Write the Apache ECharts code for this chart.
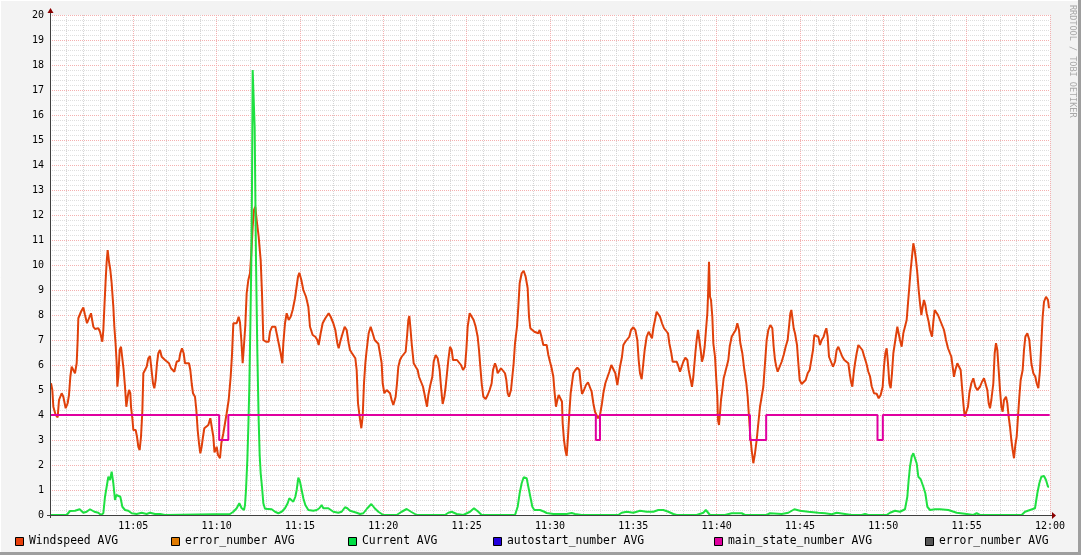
<!DOCTYPE html>
<html><head><meta charset="utf-8">
<script src="https://cdn.jsdelivr.net/npm/echarts@6/dist/echarts.min.js"></script>
<style>html,body{margin:0;padding:0;background:#f3f3f3;}#c{width:1081px;height:555px;}</style>
</head><body><div id="c"></div>
<script>
// minutes after 11:00
const windT = [0.06,0.14,0.2,0.34,0.46,0.54,0.7,0.8,0.94,1.06,1.14,1.22,1.3,1.4,1.5,1.6,1.66,1.7,1.86,2.0,2.1,2.22,2.34,2.46,2.6,2.7,2.9,3.0,3.14,3.2,3.26,3.34,3.4,3.46,3.54,3.62,3.7,3.8,3.86,3.94,4.0,4.04,4.1,4.18,4.26,4.34,4.42,4.5,4.58,4.66,4.74,4.82,4.86,4.94,5.0,5.14,5.22,5.3,5.38,5.46,5.54,5.6,5.7,5.8,5.9,6.0,6.1,6.18,6.26,6.34,6.42,6.5,6.6,6.7,6.8,6.9,7.02,7.14,7.26,7.38,7.46,7.6,7.74,7.82,7.92,8.02,8.1,8.22,8.34,8.42,8.5,8.58,8.7,8.78,8.86,8.94,9.02,9.1,9.18,9.26,9.38,9.5,9.62,9.7,9.8,9.87,10.0,10.08,10.2,10.28,10.4,10.5,10.6,10.72,10.84,10.92,11.0,11.1,11.2,11.32,11.4,11.48,11.56,11.64,11.72,11.8,11.9,12.0,12.08,12.16,12.24,12.32,12.4,12.52,12.64,12.72,12.8,12.86,12.96,13.12,13.2,13.32,13.52,13.64,13.72,13.84,13.94,14.0,14.1,14.2,14.32,14.44,14.56,14.7,14.8,14.88,14.96,15.08,15.2,15.36,15.5,15.6,15.76,15.92,16.04,16.12,16.24,16.36,16.52,16.72,16.84,17.0,17.12,17.24,17.32,17.44,17.56,17.68,17.8,17.92,18.0,18.12,18.24,18.32,18.4,18.48,18.58,18.68,18.76,18.84,18.92,19.0,19.12,19.24,19.36,19.48,19.6,19.7,19.8,19.9,19.96,20.06,20.2,20.3,20.4,20.5,20.6,20.74,20.82,20.9,21.0,21.1,21.22,21.34,21.42,21.5,21.56,21.62,21.7,21.82,21.94,22.06,22.14,22.26,22.38,22.46,22.54,22.62,22.7,22.82,22.94,23.02,23.14,23.26,23.38,23.46,23.56,23.66,23.74,23.82,23.9,24.0,24.1,24.18,24.3,24.42,24.54,24.66,24.78,24.9,24.98,25.06,25.18,25.3,25.42,25.54,25.66,25.74,25.82,25.9,26.0,26.14,26.26,26.38,26.5,26.58,26.7,26.78,26.86,26.94,27.06,27.18,27.3,27.38,27.46,27.54,27.66,27.74,27.82,27.9,28.02,28.1,28.18,28.3,28.42,28.54,28.66,28.74,28.82,28.94,29.06,29.18,29.3,29.38,29.5,29.6,29.8,29.9,30.0,30.1,30.2,30.28,30.36,30.44,30.52,30.64,30.72,30.76,30.84,30.92,31.0,31.08,31.16,31.24,31.32,31.4,31.52,31.64,31.76,31.84,31.92,32.04,32.16,32.28,32.4,32.5,32.6,32.7,32.8,32.88,33.0,33.12,33.2,33.32,33.44,33.56,33.68,33.8,33.92,34.04,34.12,34.2,34.32,34.4,34.52,34.64,34.76,34.86,35.0,35.12,35.24,35.32,35.4,35.5,35.6,35.68,35.8,35.92,36.04,36.12,36.2,36.3,36.4,36.5,36.6,36.72,36.84,36.96,37.08,37.16,37.28,37.36,37.48,37.6,37.68,37.8,37.92,38.0,38.12,38.24,38.32,38.4,38.52,38.6,38.72,38.8,38.88,38.96,39.04,39.12,39.2,39.28,39.36,39.44,39.48,39.54,39.6,39.66,39.74,39.8,39.9,39.98,40.04,40.08,40.14,40.2,40.26,40.34,40.42,40.5,40.62,40.7,40.78,40.9,41.02,41.14,41.24,41.34,41.42,41.54,41.66,41.78,41.86,41.94,42.02,42.1,42.2,42.3,42.4,42.5,42.6,42.7,42.8,42.9,43.0,43.1,43.22,43.34,43.42,43.5,43.58,43.66,43.78,43.9,44.02,44.14,44.26,44.34,44.42,44.48,44.56,44.62,44.7,44.82,44.9,44.98,45.1,45.22,45.34,45.46,45.58,45.7,45.78,45.86,45.98,46.1,46.2,46.3,46.42,46.5,46.58,46.66,46.74,46.86,46.98,47.1,47.2,47.3,47.42,47.54,47.66,47.78,47.9,47.98,48.06,48.14,48.22,48.3,48.4,48.5,48.62,48.74,48.86,48.98,49.1,49.2,49.3,49.44,49.6,49.72,49.84,49.96,50.04,50.12,50.2,50.28,50.36,50.44,50.52,50.6,50.72,50.84,50.92,51.0,51.1,51.2,51.32,51.4,51.48,51.56,51.64,51.72,51.8,51.88,51.96,52.04,52.12,52.2,52.28,52.36,52.44,52.52,52.6,52.72,52.8,52.92,53.0,53.08,53.16,53.28,53.4,53.52,53.64,53.76,53.88,54.0,54.08,54.16,54.24,54.32,54.44,54.56,54.64,54.72,54.8,54.88,55.0,55.08,55.16,55.28,55.4,55.52,55.64,55.8,55.92,56.04,56.16,56.24,56.32,56.4,56.48,56.6,56.68,56.76,56.84,56.92,57.0,57.08,57.16,57.24,57.36,57.44,57.52,57.6,57.68,57.76,57.84,57.92,58.0,58.08,58.16,58.24,58.36,58.44,58.52,58.64,58.76,58.88,59.0,59.12,59.2,59.3,59.4,59.48,59.56,59.64,59.76,59.88,59.94];
const windV = [5.27,5.0,4.33,4.0,3.9,4.6,4.87,4.73,4.27,4.47,4.8,5.53,5.93,5.93,5.67,6.07,7.0,7.87,8.13,8.3,8.0,7.67,7.87,8.07,7.53,7.44,7.47,7.33,6.93,7.4,8.27,9.4,10.13,10.6,10.13,9.8,9.27,8.33,7.53,6.8,6.07,5.13,5.53,6.6,6.73,6.8,5.8,5.13,4.33,4.73,5.0,4.87,4.33,3.87,3.4,3.4,3.13,2.73,2.6,3.13,4.13,5.67,5.8,5.93,6.27,6.36,6.33,5.27,5.07,5.4,6.07,6.47,6.6,6.33,6.27,6.2,6.27,6.07,5.87,5.93,5.73,6.13,6.17,6.47,6.67,6.47,6.07,6.0,6.07,5.8,5.27,4.87,4.73,4.2,3.4,2.87,2.47,2.73,3.13,3.47,3.53,3.6,3.87,3.8,3.13,2.5,2.73,2.4,2.27,2.87,3.27,3.67,4.07,4.6,5.53,6.4,7.67,7.73,7.67,7.93,7.7,7.0,6.07,6.8,7.6,8.87,9.4,9.67,10.47,11.53,12.2,12.33,11.8,11.13,10.2,8.87,7.0,6.93,6.93,6.93,7.33,7.53,7.53,7.47,6.87,6.47,6.07,6.87,7.67,8.07,7.8,7.93,8.2,8.67,8.73,9.53,9.69,9.4,9.0,8.73,8.33,7.53,7.2,7.13,7.0,6.8,7.27,7.67,7.87,8.07,7.93,7.67,7.4,6.87,6.67,7.0,7.27,7.53,7.4,6.87,6.6,6.47,6.53,6.27,5.8,4.47,3.93,3.47,3.93,5.27,6.07,6.6,7.27,7.53,7.27,7.0,7.0,6.85,6.47,6.07,5.27,4.87,5.0,5.07,4.87,4.6,4.4,4.73,5.27,5.93,6.2,6.33,6.27,6.53,7.13,7.8,7.96,7.53,6.87,6.07,5.93,5.8,5.53,5.33,5.13,4.87,4.6,4.33,4.8,5.2,5.53,6.13,6.4,6.27,5.8,5.13,4.44,4.73,5.13,5.67,6.2,6.73,6.6,6.2,6.13,6.2,6.13,6.0,5.8,5.93,6.6,7.53,8.07,8.13,7.8,7.53,7.13,6.6,5.93,5.27,4.73,4.64,4.8,5.0,5.27,5.8,6.07,5.93,5.67,5.73,5.87,5.93,5.67,5.4,4.87,4.73,5.0,5.53,6.07,6.87,7.53,8.33,9.27,9.67,9.77,9.53,9.07,7.93,7.47,7.4,7.33,7.4,7.27,7.4,7.1,6.8,6.8,6.4,6.13,5.87,5.53,4.87,4.33,4.6,4.8,4.87,4.53,3.67,3.0,2.6,2.36,3.13,4.07,4.87,5.27,5.67,5.8,5.89,5.8,5.27,4.84,5.0,5.2,5.31,5.27,4.93,4.47,4.13,4.13,3.87,4.0,4.47,4.87,5.27,5.33,5.73,6.0,5.93,5.67,5.2,5.27,5.93,6.33,6.8,6.93,7.0,7.13,7.4,7.51,7.4,7.0,6.2,5.67,5.43,6.07,6.6,7.13,7.33,7.27,7.07,7.47,7.8,8.13,8.2,7.93,7.67,7.47,7.4,7.27,6.87,6.47,6.13,6.07,6.13,6.0,5.73,5.67,6.13,6.29,6.2,5.8,5.53,5.13,5.53,6.47,7.0,7.4,7.0,6.6,6.13,6.33,6.73,7.4,8.07,8.73,10.13,8.73,8.6,7.93,6.87,6.33,5.4,4.73,3.8,3.6,4.07,4.6,5.0,5.47,5.67,5.69,6.2,6.73,7.13,7.27,7.4,7.67,7.4,6.87,6.47,5.8,5.27,4.73,3.93,3.13,2.6,2.07,2.47,3.0,3.67,4.33,4.73,5.13,6.07,7.0,7.4,7.6,7.47,6.73,6.2,5.93,5.73,5.93,6.13,6.4,6.73,7.0,7.53,8.07,8.2,7.8,7.47,7.27,6.8,6.07,5.4,5.24,5.27,5.4,5.67,5.8,5.8,6.6,7.2,7.24,7.13,6.8,7.0,7.13,7.33,7.47,7.13,6.33,6.13,5.93,6.13,6.6,6.73,6.67,6.33,6.2,6.27,6.07,5.67,5.33,5.13,5.67,6.07,6.47,6.8,6.84,6.6,6.33,6.07,5.73,5.55,5.15,4.87,4.85,4.67,4.8,5.13,5.93,6.47,6.67,6.07,5.27,5.07,5.67,6.47,7.0,7.53,7.47,7.0,6.73,7.27,7.33,7.8,8.47,9.13,9.8,10.33,10.87,10.6,10.2,9.67,9.0,8.47,8.0,8.33,8.6,8.4,8.07,7.73,7.4,7.13,7.73,8.2,8.27,8.0,7.8,7.73,7.4,7.0,6.67,6.6,6.33,5.93,5.53,5.8,6.07,6.13,5.8,5.13,4.47,3.93,3.87,4.33,4.87,5.27,5.47,5.13,5.0,5.13,5.33,5.47,5.53,5.0,4.47,4.27,4.6,5.27,6.47,6.87,6.6,5.8,5.0,4.33,4.13,4.6,4.73,4.47,3.93,3.53,3.0,2.6,2.27,2.8,3.13,3.93,4.73,5.4,5.8,6.6,7.13,7.27,7.0,6.07,5.67,5.53,5.27,5.07,5.8,6.87,7.93,8.53,8.73,8.6,8.27];
const curT = [0.0,1.0,1.2,1.5,1.78,2.0,2.2,2.4,2.66,2.9,3.06,3.2,3.3,3.4,3.5,3.6,3.7,3.8,3.9,3.98,4.1,4.22,4.34,4.5,4.7,4.9,5.2,5.5,5.8,6.0,6.3,6.6,6.9,10.8,11.0,11.2,11.36,11.5,11.64,11.7,11.76,11.84,11.9,11.96,12.02,12.08,12.12,12.16,12.24,12.28,12.36,12.44,12.52,12.58,12.64,12.72,12.8,12.9,13.0,13.3,13.5,13.7,13.9,14.1,14.26,14.36,14.48,14.6,14.72,14.8,14.9,15.0,15.1,15.2,15.32,15.5,15.8,16.0,16.16,16.3,16.4,16.7,17.0,17.3,17.5,17.7,17.84,18.0,18.2,18.4,18.6,18.8,19.04,19.28,19.48,19.7,19.8,20.0,20.8,21.1,21.4,21.66,22.0,23.7,23.9,24.1,24.4,24.8,25.2,25.44,25.7,25.9,27.9,28.06,28.18,28.3,28.42,28.6,28.7,28.82,28.94,29.06,29.4,29.66,29.8,30.2,31.0,31.3,31.5,31.9,34.1,34.3,34.6,35.0,35.4,35.8,36.2,36.5,36.8,37.1,37.4,37.6,38.8,39.2,39.35,39.45,39.6,40.5,40.9,41.5,41.7,43.0,43.2,43.9,44.3,44.66,45.0,45.5,46.1,46.5,46.9,47.2,47.7,48.1,48.7,48.9,49.1,50.2,50.4,50.7,51.0,51.3,51.44,51.52,51.6,51.7,51.8,51.92,52.0,52.1,52.24,52.4,52.52,52.64,52.8,53.1,53.4,53.9,54.4,55.0,55.4,55.6,55.8,58.3,58.5,58.8,59.1,59.24,59.36,59.48,59.64,59.76,59.88,59.94];
const curV = [0,0,0.16,0.17,0.23,0.09,0.13,0.23,0.13,0.09,0,0.07,0.73,1.13,1.53,1.4,1.73,1.27,0.6,0.8,0.87,0.73,0.33,0.2,0.17,0.07,0.04,0.09,0.04,0.09,0.04,0.04,0,0.04,0.13,0.27,0.47,0.27,0.2,0.4,1.0,2.2,3.53,5.13,7.53,10.2,13.13,17.8,17.8,15.5,10.2,6.5,3.8,2.4,1.67,1.13,0.47,0.25,0.23,0.23,0.13,0.07,0.13,0.27,0.47,0.67,0.6,0.53,0.73,1.0,1.49,1.33,1.0,0.67,0.4,0.2,0.17,0.2,0.27,0.4,0.27,0.27,0.13,0.09,0.13,0.31,0.27,0.17,0.13,0.09,0.04,0.07,0.27,0.44,0.27,0.13,0.07,0,0,0.13,0.24,0.13,0,0,0.09,0.13,0.04,0,0.13,0.27,0.13,0,0,0.33,0.87,1.27,1.51,1.47,1.13,0.73,0.33,0.2,0.2,0.13,0.08,0.04,0.04,0.08,0.04,0,0,0.09,0.13,0.09,0.17,0.13,0.13,0.2,0.2,0.13,0.04,0,0,0.09,0.2,0.13,0,0,0.07,0.07,0,0,0.07,0.04,0.09,0.23,0.17,0.13,0.09,0.07,0.03,0.09,0.04,0,0,0.04,0,0,0.09,0.17,0.13,0.23,0.73,1.4,1.93,2.33,2.47,2.44,2.07,1.53,1.43,1.13,0.87,0.33,0.2,0.23,0.23,0.2,0.09,0.04,0,0.07,0,0,0.13,0.2,0.27,0.87,1.27,1.53,1.56,1.4,1.13,1.13];
const stateT = [0,10.15,10.7,32.75,33.0,42.0,42.97,49.65,49.97,59.98];
const stateV = [4,3,4,3,4,3,4,3,4,4];
const xTickLabels = ['','11:05','11:10','11:15','11:20','11:25','11:30','11:35','11:40','11:45','11:50','11:55','12:00'];
const yTickLabels = ['0','1','2','3','4','5','6','7','8','9','10','11','12','13','14','15','16','17','18','19','20'];
const legendNames = ['Windspeed AVG','error_number AVG','Current AVG','autostart_number AVG','main_state_number AVG','error_number AVG'];
const legendColors = ['#e8400c','#e07a00','#00dd44','#2200dd','#e000a0','#555555'];

const zip = (a,b)=>a.map((t,i)=>[t,b[i]]);
const mono = 'DejaVu Sans Mono';
const legendBoxX = [15,171,348,493,714,925];
const graphics = [];
legendNames.forEach((n,i)=>{
  graphics.push({type:'rect',shape:{x:legendBoxX[i]+0.5,y:537.5,width:8,height:8},style:{fill:legendColors[i],stroke:'#000',lineWidth:1},z:10});
  graphics.push({type:'text',x:legendBoxX[i]+14,y:541,style:{text:n,font:'11.4px '+mono,fill:'#000',textVerticalAlign:'middle'},z:10});
});
// frame
graphics.push({type:'line',shape:{x1:0.5,y1:0,x2:0.5,y2:555},style:{stroke:'#ffffff',lineWidth:1}});
graphics.push({type:'line',shape:{x1:0,y1:0.5,x2:1081,y2:0.5},style:{stroke:'#ffffff',lineWidth:1}});
graphics.push({type:'rect',shape:{x:0,y:552,width:1081,height:3},style:{fill:'#9e9e9e'}});
graphics.push({type:'rect',shape:{x:1078,y:0,width:3,height:555},style:{fill:'#9e9e9e'}});
// axes
graphics.push({type:'line',shape:{x1:47,y1:515.5,x2:1053,y2:515.5},style:{stroke:'#404040',lineWidth:1},z:20});
graphics.push({type:'line',shape:{x1:50.5,y1:518,x2:50.5,y2:10},style:{stroke:'#404040',lineWidth:1},z:20});
graphics.push({type:'polygon',shape:{points:[[1052,512],[1052,519],[1056,515.5]]},style:{fill:'#8b0000'},z:20});
graphics.push({type:'polygon',shape:{points:[[47.5,13],[53.5,13],[50.5,8]]},style:{fill:'#8b0000'},z:20});
// watermark
graphics.push({type:'text',x:1077,y:5,rotation:-Math.PI/2,style:{text:'RRDTOOL / TOBI OETIKER',font:'8.5px '+mono,fill:'#a8a8a8'},z:10});

const chart = echarts.init(document.getElementById('c'),null,{renderer:'canvas'});
chart.setOption({
  backgroundColor:'#f3f3f3',
  animation:false,
  grid:{left:50,right:31,top:15,bottom:40,show:true,backgroundColor:'#ffffff',borderWidth:0},
  xAxis:{type:'value',min:0,max:60,interval:5,
    axisLine:{show:false},axisTick:{show:false},
    axisLabel:{fontFamily:mono,fontSize:10,color:'#000',margin:6,showMinLabel:true,
      formatter:(v)=>xTickLabels[Math.round(v/5)]},
    splitLine:{show:true,lineStyle:{color:'#f4b0b0',type:[1,1],width:1}},
    minorTick:{show:false,splitNumber:5},
    minorSplitLine:{show:true,lineStyle:{color:'#d4d4d4',type:[1,1],width:1}}},
  yAxis:{type:'value',min:0,max:20,interval:1,
    axisLine:{show:false},axisTick:{show:false},
    axisLabel:{fontFamily:mono,fontSize:10,color:'#000',margin:6,formatter:(v)=>yTickLabels[Math.round(v)]},
    splitLine:{show:true,lineStyle:{color:'#f4b0b0',type:[1,1],width:1}},
    minorTick:{show:false,splitNumber:5},
    minorSplitLine:{show:true,lineStyle:{color:'#dedede',type:[1,1],width:1}}},
  series:[
    {name:'Windspeed AVG',type:'line',data:zip(windT,windV),showSymbol:false,lineStyle:{color:'#e0400a',width:2},itemStyle:{color:'#e0400a'}},
    {name:'Current AVG',type:'line',data:zip(curT,curV),showSymbol:false,lineStyle:{color:'#1ee040',width:2},itemStyle:{color:'#1ee040'}},
    {name:'main_state_number AVG',type:'line',step:'end',data:zip(stateT,stateV),showSymbol:false,lineStyle:{color:'#e000a0',width:2},itemStyle:{color:'#e000a0'}}
  ],
  graphic:graphics
});
</script></body></html>
